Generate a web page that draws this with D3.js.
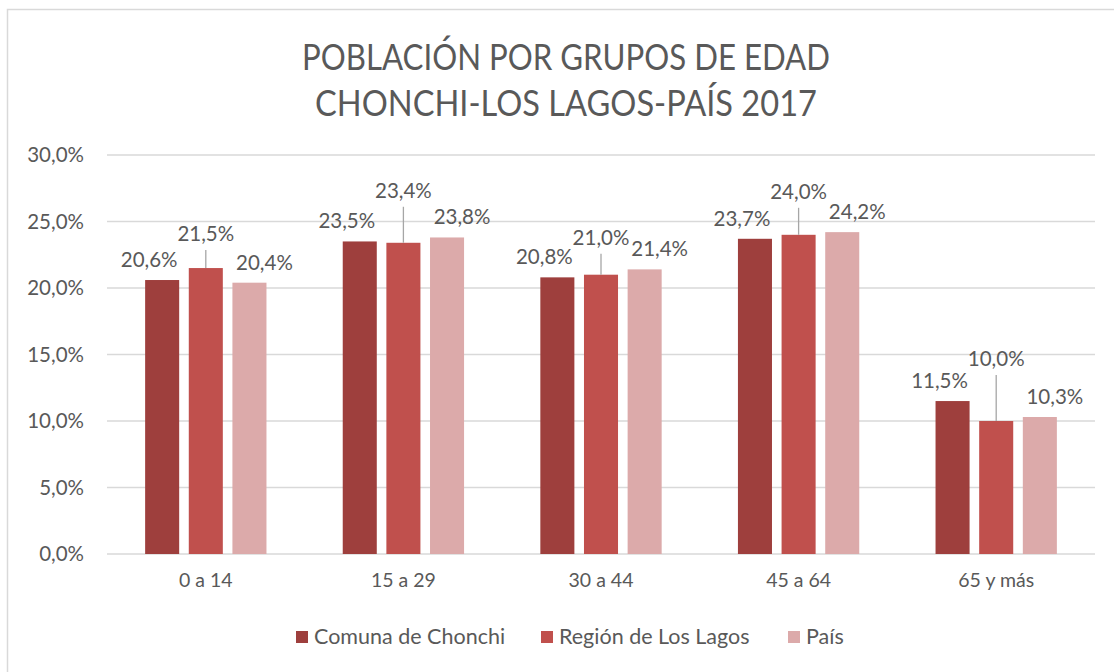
<!DOCTYPE html>
<html>
<head>
<meta charset="utf-8">
<script src="https://cdn.jsdelivr.net/npm/d3@7"></script>
<style>
  body { margin: 0; background: #fff; }
  text { font-family: Lato, "Noto Sans", sans-serif; fill: #595959; }
</style>
</head>
<body>
<script>
// data
var categories = ["0 a 14", "15 a 29", "30 a 44", "45 a 64", "65 y más"];
var seriesNames = ["Comuna de Chonchi", "Región de Los Lagos", "País"];
var chonchi = [20.6, 23.5, 20.8, 23.7, 11.5];
var losLagos = [21.5, 23.4, 21.0, 24.0, 10.0];
var pais = [20.4, 23.8, 21.4, 24.2, 10.3];
var yTicks = [0, 5, 10, 15, 20, 25, 30];
var colors = ["#9E3F3D", "#C0504D", "#DCAAAA"];

// label tweaks (px): middle series labels are lifted with a leader line
var midLift = [27, 45, 30, 36, 55];
var sideShift = [-13, 0, 15];

var width = 1114, height = 672;
var values = [chonchi, losLagos, pais];

var svg = d3.select("body").append("svg")
  .attr("width", width)
  .attr("height", height);

svg.append("rect")
  .attr("x", 7.5).attr("y", 9.5)
  .attr("width", 1130).attr("height", 690)
  .attr("fill", "#fff")
  .attr("stroke", "#D9D9D9")
  .attr("stroke-width", 1.5);

// title
var title = svg.append("text")
  .attr("text-anchor", "middle")
  .attr("x", 566)
  .style("font-size", "37px");
title.append("tspan").attr("x", 566).attr("y", 70).attr("textLength", 528).attr("lengthAdjust", "spacingAndGlyphs").text("POBLACIÓN POR GRUPOS DE EDAD");
title.append("tspan").attr("x", 566).attr("y", 116).attr("textLength", 502).attr("lengthAdjust", "spacingAndGlyphs").text("CHONCHI-LOS LAGOS-PAÍS 2017");

var x0 = d3.scaleBand()
  .domain(categories)
  .range([107, 1095])
  .paddingInner(0.386)
  .paddingOuter(0.193);

var x1 = d3.scaleBand()
  .domain(d3.range(seriesNames.length))
  .range([0, x0.bandwidth()])
  .paddingInner(0.22);

var y = d3.scaleLinear()
  .domain([0, 30])
  .range([554, 155]);

var fmt = function(v) { return d3.format(".1f")(v).replace(".", ",") + "%"; };

// gridlines
svg.append("g")
  .selectAll("line")
  .data(yTicks)
  .enter().append("line")
  .attr("x1", 107).attr("x2", 1095)
  .attr("y1", function(d) { return y(d); })
  .attr("y2", function(d) { return y(d); })
  .attr("stroke", "#D9D9D9")
  .attr("stroke-width", 1.5);

// y axis labels
var yAxis = d3.axisLeft(y).tickValues(yTicks).tickSize(0).tickPadding(0).tickFormat(fmt);
var gy = svg.append("g").attr("transform", "translate(84,0)").call(yAxis);
gy.select(".domain").remove();
gy.selectAll("text").style("font-size", "20.5px").style("font-family", null).attr("fill", null);

// x axis labels
var xAxis = d3.axisBottom(x0).tickSize(0).tickPadding(0);
var gx = svg.append("g").attr("transform", "translate(0,573)").call(xAxis);
gx.select(".domain").remove();
gx.selectAll("text").style("font-size", "19.5px").style("font-family", null).attr("fill", null);

// bars
var groups = svg.append("g")
  .selectAll("g")
  .data(categories)
  .enter().append("g")
  .attr("transform", function(d) { return "translate(" + x0(d) + ",0)"; });

var cells = groups.selectAll("g")
  .data(function(d, i) {
    return values.map(function(s, j) { return { cat: i, s: j, v: s[i] }; });
  })
  .enter().append("g");

cells.append("rect")
  .attr("x", function(d) { return x1(d.s); })
  .attr("width", x1.bandwidth())
  .attr("y", function(d) { return y(d.v); })
  .attr("height", function(d) { return y(0) - y(d.v); })
  .attr("fill", function(d) { return colors[d.s]; });

// leader lines for middle series
cells.filter(function(d) { return d.s === 1; })
  .append("line")
  .attr("x1", function(d) { return x1(d.s) + x1.bandwidth() / 2; })
  .attr("x2", function(d) { return x1(d.s) + x1.bandwidth() / 2; })
  .attr("y1", function(d) { return y(d.v) - midLift[d.cat] + 9; })
  .attr("y2", function(d) { return y(d.v); })
  .attr("stroke", "#A6A6A6")
  .attr("stroke-width", 1.3);

cells.append("text")
  .attr("text-anchor", "middle")
  .attr("x", function(d) { return x1(d.s) + x1.bandwidth() / 2 + sideShift[d.s]; })
  .attr("y", function(d) {
    return d.s === 1 ? y(d.v) - midLift[d.cat] : y(d.v) - 13;
  })
  .style("font-size", "20.5px")
  .text(function(d) { return fmt(d.v); });

// legend
var legendX = [296, 541, 788];
var legend = svg.append("g")
  .selectAll("g")
  .data(seriesNames)
  .enter().append("g")
  .attr("transform", function(d, i) { return "translate(" + legendX[i] + ",631)"; });
legend.append("rect")
  .attr("width", 12).attr("height", 12)
  .attr("fill", function(d, i) { return colors[i]; });
legend.append("text")
  .attr("x", 18).attr("y", 13)
  .style("font-size", "21.5px")
  .text(function(d) { return d; });
</script>
</body>
</html>
